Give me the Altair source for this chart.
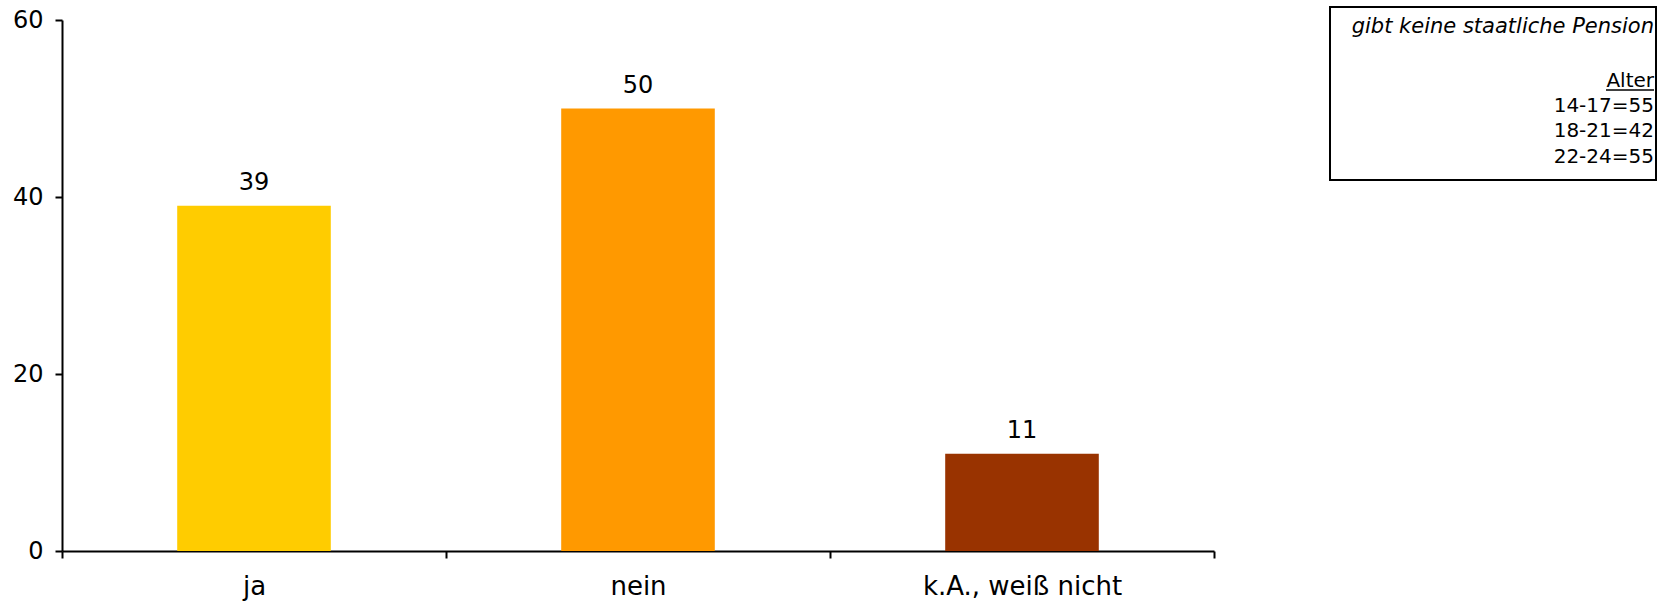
import altair as alt
import pandas as pd

# Survey answers and their shares (percent)
categories = ["ja", "nein", "k.A., weiß nicht"]
values = [39, 50, 11]
colors = ["#FFCC00", "#FF9900", "#993300"]

# Side note box contents
note_title = "gibt keine staatliche Pension"
note_header = "Alter"
note_lines = ["14-17=55", "18-21=42", "22-24=55"]

FONT = "DejaVu Sans"
W, H = 1152, 531

df = pd.DataFrame({"answer": categories, "value": values})

x = alt.X(
    "answer:N",
    sort=categories,
    scale=alt.Scale(paddingInner=0, paddingOuter=0),
    axis=alt.Axis(
        title=None, labelAngle=0, labelFont=FONT, labelFontSize=26,
        labelColor="black", labelPadding=15, labelLimit=400, tickBand="extent",
        tickSize=7, tickColor="black", tickWidth=2,
        domainColor="black", domainWidth=2,
    ),
)
y = alt.Y(
    "value:Q",
    scale=alt.Scale(domain=[0, 60]),
    axis=alt.Axis(
        title=None, values=[0, 20, 40, 60], grid=False,
        labelFont=FONT, labelFontSize=24, labelColor="black", labelPadding=12,
        tickSize=7, tickColor="black", tickWidth=2,
        domainColor="black", domainWidth=2,
    ),
)

bars = alt.Chart(df).mark_bar(width=alt.RelativeBandSize(0.4)).encode(
    x=x, y=y,
    color=alt.Color("answer:N", sort=categories,
                    scale=alt.Scale(domain=categories, range=colors), legend=None),
)

labels = alt.Chart(df).mark_text(
    font=FONT, fontSize=24, color="black", baseline="alphabetic", dy=-16
).encode(x=alt.X("answer:N", sort=categories), y="value:Q", text="value:Q")

# Note box in the upper right corner
box = alt.Chart(pd.DataFrame({"k": [0]})).mark_rect(
    fill="white", stroke="black", strokeWidth=2
).encode(x=alt.value(1268), x2=alt.value(1594), y=alt.value(-13), y2=alt.value(160))

title_text = alt.Chart(pd.DataFrame({"text": [note_title]})).mark_text(
    font=FONT, fontSize=21, fontStyle="italic", color="black",
    align="right", baseline="alphabetic"
).encode(x=alt.value(1592), y=alt.value(13), text="text:N")

body_df = pd.DataFrame({
    "text": [note_header] + note_lines,
    "ypos": [67, 92, 117, 143],
})
body_text = alt.Chart(body_df).mark_text(
    font=FONT, fontSize=20, color="black", align="right", baseline="alphabetic"
).encode(
    x=alt.value(1592),
    y=alt.Y("ypos:Q", scale=None),
    text="text:N",
)
underline = alt.Chart(pd.DataFrame({"k": [0]})).mark_rule(
    color="black", strokeWidth=1.5
).encode(x=alt.value(1544), x2=alt.value(1592), y=alt.value(70))

chart = alt.layer(bars, labels, box, title_text, body_text, underline).properties(
    width=W, height=H,
    autosize=alt.AutoSizeParams(type="none"),
    padding={"left": 62, "top": 20, "right": 1662 - 62 - W, "bottom": 602 - 20 - H},
    background="white",
).configure_view(stroke=None)

chart.save("out.html", embed_options={"renderer": "svg", "actions": False})
